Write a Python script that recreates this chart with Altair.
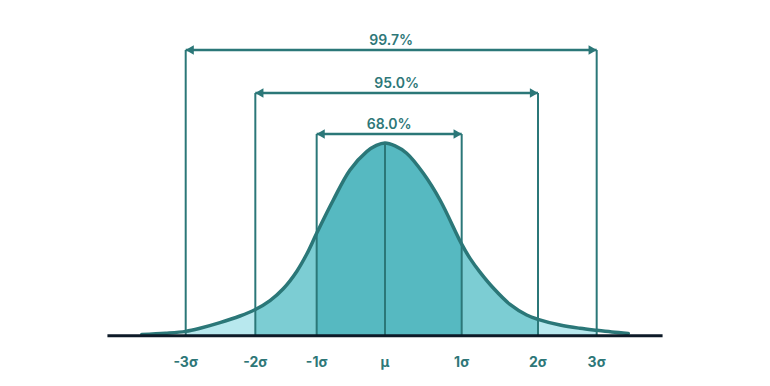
import altair as alt
import pandas as pd

# ---- data ----
curve_x = [-3.379, -3.05, -2.768, -2.569, -2.292, -2.014, -1.801, -1.597, -1.413, -1.226,
           -1.088, -0.949, -0.718, -0.486, -0.254, -0.12, 0.0, 0.14, 0.301, 0.532, 0.764,
           1.065, 1.181, 1.319, 1.504, 1.736, 1.968, 2.125, 2.431, 2.708, 2.940, 3.15, 3.379]
curve_y = [0.0025, 0.0052, 0.0090, 0.0154, 0.0270, 0.0409, 0.0545, 0.0730, 0.0975, 0.1335,
           0.1690, 0.2126, 0.2817, 0.3440, 0.3820, 0.395, 0.40, 0.394, 0.3787, 0.3371, 0.2817,
           0.1900, 0.1605, 0.1320, 0.0990, 0.0650, 0.0430, 0.0340, 0.0222, 0.0154, 0.0112,
           0.0078, 0.0048]

sigma_labels = ["-3σ", "-2σ", "-1σ", "μ", "1σ", "2σ", "3σ"]
sigma_x = [-2.768, -1.801, -0.949, 0.0, 1.065, 2.125, 2.940]

span_labels = ["68.0%", "95.0%", "99.7%"]
span_left = [-0.949, -1.801, -2.768]
span_right = [1.065, 2.125, 2.940]
span_y = [0.4187, 0.5038, 0.5931]

peak_y = 0.40
baseline_x = [-3.855, 3.855]

# ---- styling ----
TEAL = "#2b7778"
TEXT = "#2e7778"
DARK = "#0d1a27"
C_OUT, C_MID, C_CEN = "#b8e8ee", "#7ccdd3", "#56b9c1"
FONT = "Inter"
INTERP = "catmull-rom"

XS = alt.Scale(domain=[-5.236, 5.236], nice=False, zero=False)
YS = alt.Scale(domain=[-0.0878, 0.6803], nice=False, zero=False)


def X(f="x"):
    return alt.X(f"{f}:Q", scale=XS, axis=None)


def Y(f="y"):
    return alt.Y(f"{f}:Q", scale=YS, axis=None)


curve = pd.DataFrame({"x": curve_x, "y": curve_y})

bounds = sigma_x[:3] + sigma_x[4:]  # -3,-2,-1,1,2,3
segs = [("A", bounds[0], bounds[1]), ("B", bounds[1], bounds[2]),
        ("C", bounds[2], bounds[3]), ("D", bounds[3], bounds[4]),
        ("E", bounds[4], bounds[5])]
rows = []
for name, lo, hi in segs:
    for xv, yv in zip(curve_x, curve_y):
        if lo - 1e-9 <= xv <= hi + 1e-9:
            rows.append({"x": xv, "y": yv, "seg": name})
area_df = pd.DataFrame(rows)

areas = alt.Chart(area_df).mark_area(interpolate=INTERP).encode(
    x=X(), y=alt.Y("y:Q", scale=YS, axis=None, stack=None),
    color=alt.Color("seg:N", scale=alt.Scale(domain=["A", "B", "C", "D", "E"],
                                             range=[C_OUT, C_MID, C_CEN, C_MID, C_OUT]),
                    legend=None),
)

# vertical lines
vrows = []
for lab, xv in zip(sigma_labels, sigma_x):
    if lab == "μ":
        top = peak_y
    else:
        k = int(lab.replace("σ", "").replace("-", "")) - 1
        top = span_y[k]
    vrows.append({"x": xv, "y": 0.0, "y2": top})
vdf = pd.DataFrame(vrows)
vlines = alt.Chart(vdf).mark_rule(color=TEAL, strokeWidth=2).encode(
    x=X(), y=Y(), y2="y2:Q")

line = alt.Chart(curve).mark_line(interpolate=INTERP, color=TEAL, strokeWidth=3.5,
                                  strokeCap="round").encode(x=X(), y=Y())

base_df = pd.DataFrame({"x": [baseline_x[0]], "x2": [baseline_x[1]], "y": [0.0]})
baseline = alt.Chart(base_df).mark_rule(color=DARK, strokeWidth=3).encode(
    x=X(), x2="x2:Q", y=Y())

spans = pd.DataFrame({"label": span_labels, "xl": span_left, "xr": span_right, "y": span_y})
spans["xm"] = (spans["xl"] + spans["xr"]) / 2
arrows = alt.Chart(spans).mark_rule(color=TEAL, strokeWidth=2.5).encode(
    x=X("xl"), x2="xr:Q", y=Y())
head_l = alt.Chart(spans).mark_point(shape="triangle-left", filled=True, size=90,
                                     color=TEAL, opacity=1, xOffset=4).encode(
    x=X("xl"), y=Y())
head_r = alt.Chart(spans).mark_point(shape="triangle-right", filled=True, size=90,
                                     color=TEAL, opacity=1, xOffset=-4).encode(
    x=X("xr"), y=Y())
span_text = alt.Chart(spans).mark_text(font=FONT, fontSize=14, fontWeight=600, color=TEXT,
                                       baseline="alphabetic", dy=-5).encode(
    x=X("xm"), y=Y(), text="label:N")

ticks = pd.DataFrame({"label": sigma_labels, "x": sigma_x, "y": [0.0] * len(sigma_x)})
tick_text = alt.Chart(ticks).mark_text(font=FONT, fontSize=14, fontWeight=700, color=TEXT,
                                       baseline="alphabetic", dy=31).encode(
    x=X(), y=Y(), text="label:N")

chart = alt.layer(areas, vlines, line, baseline, arrows, head_l, head_r, span_text,
                  tick_text).properties(width=754, height=370, padding=0,
                                        background="white").configure_view(stroke=None)

chart.save("out.html", embed_options={"renderer": "svg", "actions": False})
